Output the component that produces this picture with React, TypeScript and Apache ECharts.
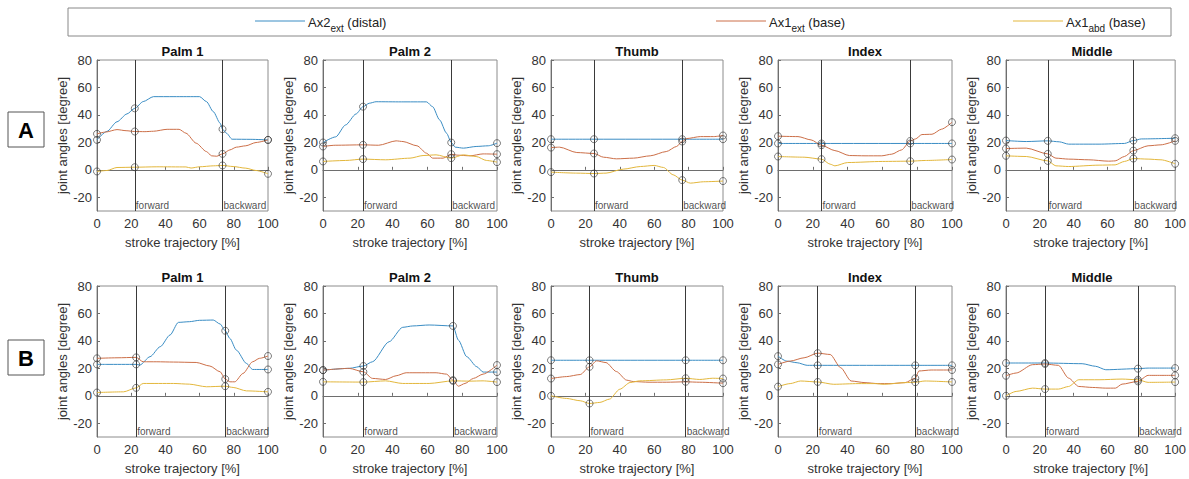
import React, { useEffect, useRef } from "react";
import * as echarts from "echarts";

// ---------- data ----------
const panelNames = ["Palm 1", "Palm 2", "Thumb", "Index", "Middle"];
const rowLabels = ["A", "B"];
const seriesNames = ["Ax2ext (distal)", "Ax1ext (base)", "Ax1abd (base)"];
const yTicks = [-20, 0, 20, 40, 60, 80];
const phaseLabels = ["forward", "backward"];

const fwdA = [22.1, 23, 25, 25, 24.7];
const bwdA = [73.4, 73.7, 76.3, 76, 75.3];
const fwdB = [22.9, 23.2, 22.4, 22.8, 23.1];
const bwdB = [75, 74.7, 78.3, 78.9, 78];

// Row A
const A_palm1_ax2 = [[0,21.8],[5.8,28],[11.7,35],[17.5,40.7],[22.1,44.8],[27,49.7],[33,53.3],[45,53.3],[60,53.3],[64,49.7],[68,42.4],[72,34],[73.4,29.6],[75.7,26.7],[79,22.3],[90,22.2],[100,21.8]];
const A_palm1_ext = [[0,26.2],[5,27.5],[11.7,29.3],[17,28.5],[22.1,27.9],[28,27.8],[33,28.1],[41,29.5],[48,29.5],[52,26.7],[58,19.4],[64,13.3],[67,10.2],[70,9.9],[73.4,11.6],[77.7,14.5],[81.5,16.5],[87,17.5],[93,19.9],[100,21.8]];
const A_palm1_abd = [[0,-1.2],[5.8,-0.5],[11.7,1.7],[22.1,1.9],[35,2.2],[52,2.1],[55,1.3],[60,2.2],[68,2.9],[73.4,3.2],[79.6,2.4],[87,1.2],[93,-0.5],[100,-2.9]];

const A_palm2_ax2 = [[0,19.9],[7.3,24],[13,32.7],[19,40.7],[23,46],[26.6,48.5],[30.5,49.6],[45,49.5],[59.5,49.5],[63,46],[67,36.4],[71,26.7],[73.7,19.9],[76,16.5],[80.7,15.8],[88,17],[95,17.5],[100,19.4]];
const A_palm2_ext = [[0,17],[7,17.9],[23,18.2],[32,17.9],[42,21.1],[46,20.6],[54,17.5],[59.5,12.1],[63,8.5],[69,8.5],[73.7,11.4],[77,10.7],[84.5,10.2],[92,11.6],[100,11.4]];
const A_palm2_abd = [[0,6.1],[13,6.8],[23,7.8],[36,7.3],[50,8.5],[57.5,10.4],[65,10.9],[73.7,8.5],[80.7,10.9],[88,9.7],[94,6.8],[100,5.6]];

const A_thumb_ax2 = [[0,22.3],[25,22.3],[76.3,22.3],[100,22.3]];
const A_thumb_ext = [[0,16.2],[5,16.5],[15,12.6],[25,11.9],[30.5,9.2],[38,8],[48,8.5],[57.7,10.2],[67,13.3],[73,17],[76.3,20.6],[79,22.8],[86.8,24.2],[94.6,24.2],[100,25]];
const A_thumb_abd = [[0,-1.7],[15,-2.4],[25,-2.7],[32,-2.4],[42,0.5],[52,2.4],[60,3.2],[65.4,1.7],[71,-3.6],[76.3,-7.5],[81,-9.7],[88.7,-8.7],[100,-8.2]];

const A_index_ax2 = [[0,19.2],[25,19.2],[76,19.2],[100,19.2]];
const A_index_ext = [[0,24.5],[11.5,24.2],[19,21.8],[25,17.9],[32.7,14],[41,10.4],[50,10.2],[59.6,10.2],[65.4,11.4],[71,14.5],[76,21],[79,22.5],[82.7,25.7],[88.5,25.9],[94,29.6],[100,34.7]];
const A_index_abd = [[0,9.7],[15,9.2],[25,7.8],[30,4.1],[32.7,2.9],[40,5.3],[60,6.1],[76,6.3],[84.6,6.8],[100,7.5]];

const A_middle_ax2 = [[0,21.3],[12,20.6],[24.7,21.1],[31.5,20.4],[37,18.7],[55,18.7],[70,19.2],[75.3,21.3],[80,22.5],[100,23]];
const A_middle_ext = [[0,15.5],[12,15.8],[24.7,11.6],[29.5,8.5],[37,7.8],[49,7.3],[60.6,6.3],[64.5,6.5],[70,9.7],[75.3,14],[84,17.5],[91.6,18.2],[100,21.1]];
const A_middle_abd = [[0,10.2],[12,9.7],[24.7,6.5],[29.5,2.9],[37,2.4],[55,3.4],[64.5,3.6],[70,6.1],[75.3,8.2],[84,7.8],[91.6,7.3],[100,4.4]];

// Row B
const B_palm1_ax2 = [[0,22.9],[5.8,22.9],[22.9,22.9],[25,22.4],[31,28.5],[37,35.8],[42.7,44.3],[47.6,53.5],[54,54],[60,55],[68,55.2],[72,52.3],[75,47.4],[77.7,41.8],[81.5,33.3],[87.4,23.6],[91,19.2],[100,19.2]];
const B_palm1_ext = [[0,27.3],[11.7,27.7],[22.9,28],[27,24.8],[35,24.8],[44.7,24.6],[58,24.3],[66,21.7],[72,17.5],[75,12.2],[77.7,10.2],[80.6,10.2],[85.4,16.3],[91,24.8],[95,27.3],[100,29]];
const B_palm1_abd = [[0,2.4],[15.5,2.9],[22.9,5.8],[27,9],[44.7,9],[54,8.5],[64,6.6],[75,7],[79.6,6.1],[87.4,3.6],[100,2.9]];

const B_palm2_ax2 = [[0,18.7],[15,20],[23.2,21.7],[28.4,24.8],[38,39.4],[45.8,49.9],[51.6,50.9],[61,51.6],[74.7,50.9],[77.8,40.6],[82.6,28.5],[88.4,21.2],[92,17.3],[100,17.3]];
const B_palm2_ext = [[0,18.7],[15,20],[23.2,17.5],[28.4,12.7],[36,11.9],[42,14.6],[47.8,16.8],[65,16.8],[71,15.8],[74.7,11.4],[77.8,7],[81.6,9],[86.5,12.7],[92,15.8],[100,22.4]];
const B_palm2_abd = [[0,10.2],[23.2,10],[36,10.9],[45.8,9],[61,9],[74.7,10.9],[84.5,10.7],[92,10.9],[100,10]];

const B_thumb_ax2 = [[0,25.9],[22.4,25.9],[78.3,25.9],[100,25.9]];
const B_thumb_ext = [[0,12.6],[9,14],[17,15.5],[22.4,21.1],[26.5,25.5],[32,24.2],[38,17.7],[44,11.4],[47.8,10.4],[57,9.9],[67,9.9],[78.3,10.2],[86.5,9.9],[100,9.2]];
const B_thumb_abd = [[0,0],[9,-1.9],[17,-3.6],[22.4,-5.6],[28.4,-4.8],[34,-2.4],[40,4.8],[46,9.7],[51.6,10.9],[67,11.6],[78.3,12.8],[86.5,11.9],[94,12.8],[100,12.6]];

const B_index_ax2 = [[0,28.9],[5,25.3],[11,24.1],[16.8,22.2],[22.8,22.2],[78.9,22.2],[100,22.2]];
const B_index_ext = [[0,22.9],[7,25.3],[15,27.7],[22.8,31.1],[30,30.1],[36,20.5],[42,10.8],[50,9.6],[57.4,8.9],[65,8.9],[73,9.6],[78.9,12.8],[81,18.1],[88,18.8],[100,18.8]];
const B_index_abd = [[0,6.7],[7,8.9],[13,10.8],[22.8,10.1],[32,8.4],[46,8.9],[55.5,8.9],[61,8.4],[73,9.6],[78.9,9.9],[84.5,10.8],[100,10.1]];

const B_middle_ax2 = [[0,23.9],[23.1,23.9],[45,23.4],[53,21.5],[59,19],[78,19.8],[84,20.2],[100,20.2]];
const B_middle_ext = [[0,14.6],[6,16.6],[15.7,22.7],[23.1,23.2],[31,22.2],[37,12.9],[43,6.8],[51,6.1],[59,5.6],[64.7,5.6],[68.6,8.5],[78,10.5],[84,14.9],[100,14.9]];
const B_middle_abd = [[0,0],[6,3.2],[15.7,5.6],[23.1,4.9],[31,4.9],[37,6.8],[43,11.7],[55,11.7],[68.6,12.2],[78,11.7],[84,9.8],[100,10]];

const rowsData = [
  [
    [A_palm1_ax2, A_palm1_ext, A_palm1_abd],
    [A_palm2_ax2, A_palm2_ext, A_palm2_abd],
    [A_thumb_ax2, A_thumb_ext, A_thumb_abd],
    [A_index_ax2, A_index_ext, A_index_abd],
    [A_middle_ax2, A_middle_ext, A_middle_abd],
  ],
  [
    [B_palm1_ax2, B_palm1_ext, B_palm1_abd],
    [B_palm2_ax2, B_palm2_ext, B_palm2_abd],
    [B_thumb_ax2, B_thumb_ext, B_thumb_abd],
    [B_index_ax2, B_index_ext, B_index_abd],
    [B_middle_ax2, B_middle_ext, B_middle_abd],
  ],
];
const rowsFwd = [fwdA, fwdB];
const rowsBwd = [bwdA, bwdB];

// ---------- layout / style ----------
const FONT = "'Liberation Sans', Arial, Helvetica, sans-serif";
const COLORS = ["#3a8dc4", "#cc6f48", "#e3b73c"];
const gridLefts = [97, 323, 551, 778, 1006];
const gridWidths = [171, 174, 172, 174, 172];
const rowTops = [60, 286];
const gridHeight = 151;
const titleYs = [51, 277];

function buildOption() {
  const grid: any[] = [];
  const xAxis: any[] = [];
  const yAxis: any[] = [];
  const series: any[] = [];
  const graphic: any[] = [];

  rowsData.forEach((row, r) => {
    row.forEach((panel, c) => {
      const k = r * 5 + c;
      const fwd = rowsFwd[r][c];
      const bwd = rowsBwd[r][c];
      grid.push({
        left: gridLefts[c],
        top: rowTops[r],
        width: gridWidths[c],
        height: gridHeight,
        show: true,
        borderColor: "#8c8c8c",
        borderWidth: 1,
        backgroundColor: "#fff",
      });
      xAxis.push({
        type: "value",
        gridIndex: k,
        min: 0,
        max: 100,
        interval: 20,
        name: "stroke trajectory [%]",
        nameLocation: "middle",
        nameGap: 25,
        nameTextStyle: { fontSize: 13, color: "#333", fontFamily: FONT },
        axisLine: { show: true, lineStyle: { color: "#6e6e6e" } },
        axisTick: { show: true, inside: true, length: 3, lineStyle: { color: "#6e6e6e" } },
        axisLabel: { fontSize: 13, color: "#333", margin: 6, fontFamily: FONT },
        splitLine: { show: false },
      });
      yAxis.push({
        type: "value",
        gridIndex: k,
        min: -30,
        max: 80,
        name: "joint angles [degree]",
        nameLocation: "middle",
        nameGap: 28,
        nameRotate: 90,
        nameTextStyle: { fontSize: 13, color: "#333", fontFamily: FONT },
        axisLine: { show: true, lineStyle: { color: "#6e6e6e" } },
        axisTick: { show: true, inside: true, length: 3, customValues: yTicks, lineStyle: { color: "#6e6e6e" } },
        axisLabel: { fontSize: 13, color: "#333", margin: 5, customValues: yTicks, fontFamily: FONT },
        splitLine: { show: false },
      });

      const markerXs = [0, fwd, bwd, 100];
      const markers: number[][] = [];
      panel.forEach((data, s) => {
        series.push({
          type: "line",
          name: seriesNames[s],
          xAxisIndex: k,
          yAxisIndex: k,
          data,
          symbol: "none",
          showSymbol: false,
          smooth: 0.25,
          smoothMonotone: "x",
          lineStyle: { width: 1, color: COLORS[s] },
          itemStyle: { color: COLORS[s] },
          z: 3,
        });
        data.forEach((p) => {
          if (markerXs.some((m) => Math.abs(m - p[0]) < 1e-6)) markers.push(p);
        });
      });
      series.push({
        type: "scatter",
        xAxisIndex: k,
        yAxisIndex: k,
        data: markers,
        symbol: "circle",
        symbolSize: 7,
        itemStyle: { color: "rgba(0,0,0,0)", borderColor: "#333", borderWidth: 0.8 },
        z: 4,
      });
      series.push({
        type: "scatter",
        xAxisIndex: k,
        yAxisIndex: k,
        data: [
          [fwd, -26, phaseLabels[0]],
          [bwd, -26, phaseLabels[1]],
        ],
        symbolSize: 0,
        label: {
          show: true,
          position: "right",
          distance: 1,
          formatter: (p: any) => p.data[2],
          fontSize: 10,
          color: "#222",
          fontFamily: FONT,
        },
        markLine: {
          silent: true,
          symbol: ["none", "none"],
          label: { show: false },
          lineStyle: { color: "#3a3a3a", width: 1, type: "solid" },
          data: [{ xAxis: fwd }, { xAxis: bwd }],
        },
        z: 2,
      });

      graphic.push({
        type: "text",
        x: gridLefts[c] + gridWidths[c] / 2,
        y: titleYs[r],
        style: {
          text: panelNames[c],
          fill: "#111",
          font: `bold 13px ${FONT}`,
          textAlign: "center",
          verticalAlign: "middle",
        },
      });
    });
  });

  // legend box
  graphic.push({
    type: "rect",
    shape: { x: 68, y: 8, width: 1103, height: 28 },
    style: { fill: "#fff", stroke: "#888", lineWidth: 1 },
    z: 0,
  });
  const legendLineX = [255, 716, 1013];
  const legendTexts = [
    ["Ax2", "ext", " (distal)"],
    ["Ax1", "ext", " (base)"],
    ["Ax1", "abd", " (base)"],
  ];
  legendLineX.forEach((lx, i) => {
    graphic.push({
      type: "line",
      shape: { x1: lx, y1: 21, x2: lx + 50, y2: 21 },
      style: { stroke: COLORS[i], lineWidth: 1 },
      z: 1,
    });
    graphic.push({
      type: "text",
      x: lx + 53,
      y: 22,
      style: {
        text: `{n|${legendTexts[i][0]}}{s|${legendTexts[i][1]}}{n|${legendTexts[i][2]}}`,
        verticalAlign: "middle",
        rich: {
          n: { fontSize: 13, fill: "#222", fontFamily: FONT, lineHeight: 22, verticalAlign: "middle" },
          s: { fontSize: 10, fill: "#222", fontFamily: FONT, lineHeight: 10, verticalAlign: "bottom" },
        },
      },
      z: 1,
    });
  });

  // row labels
  const rowBoxY = [112, 340];
  rowLabels.forEach((lab, i) => {
    graphic.push({
      type: "rect",
      shape: { x: 8, y: rowBoxY[i], width: 36, height: 35 },
      style: { fill: "#fff", stroke: "#555", lineWidth: 1 },
    });
    graphic.push({
      type: "text",
      x: 26,
      y: rowBoxY[i] + 18,
      style: {
        text: lab,
        font: `bold 22px ${FONT}`,
        fill: "#000",
        textAlign: "center",
        verticalAlign: "middle",
      },
    });
  });

  return {
    animation: false,
    backgroundColor: "#fff",
    textStyle: { fontFamily: FONT },
    grid,
    xAxis,
    yAxis,
    series,
    graphic,
  };
}

export default function App() {
  const ref = useRef<HTMLDivElement>(null);
  useEffect(() => {
    if (!ref.current) return;
    const chart = echarts.init(ref.current, undefined, { renderer: "svg" });
    chart.setOption(buildOption() as any);
    return () => chart.dispose();
  }, []);
  return (
    <div
      ref={ref}
      style={{ position: "absolute", left: 0, top: 0, width: 1189, height: 479, background: "#fff" }}
    />
  );
}
